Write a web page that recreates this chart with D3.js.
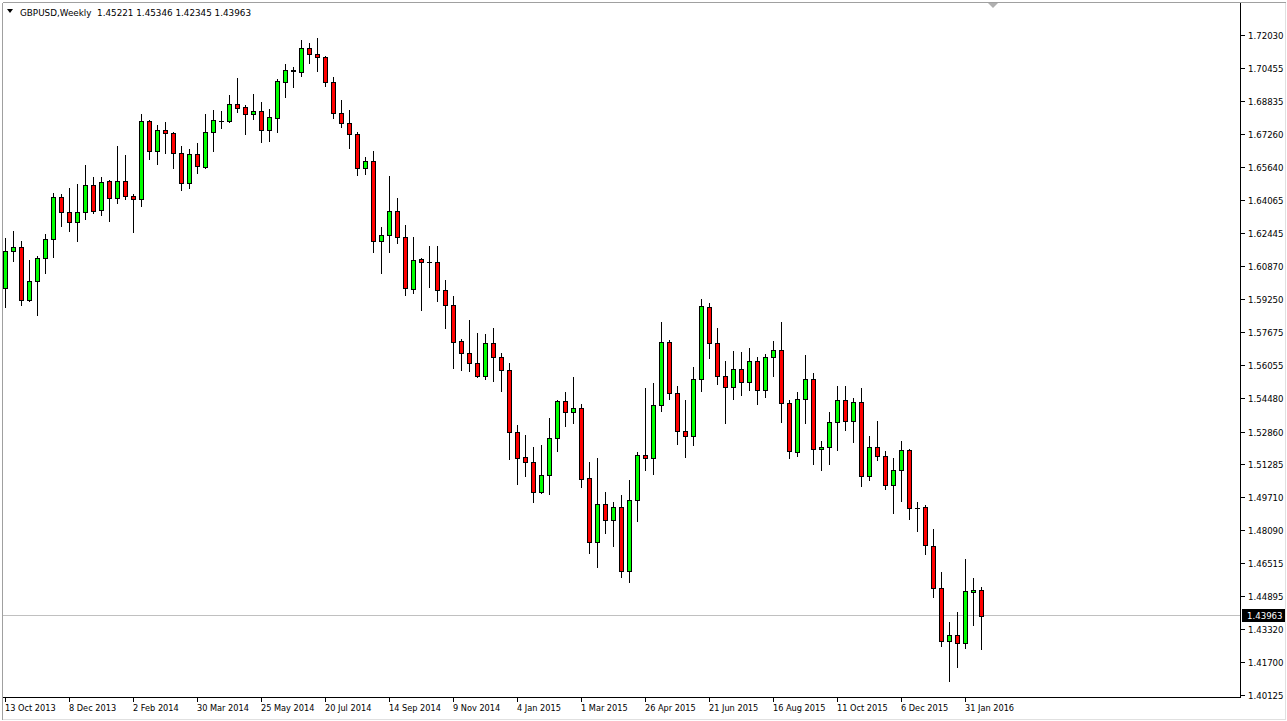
<!DOCTYPE html>
<html><head><meta charset="utf-8">
<script src="https://cdn.jsdelivr.net/npm/d3@7"></script>
<style>
html,body{margin:0;padding:0;background:#fff;}
svg{display:block;}
text{font-family:"DejaVu Sans",Tahoma,sans-serif;white-space:pre;}
</style></head>
<body>
<svg id="c" width="1287" height="721"></svg>
<script>
const symbol = "GBPUSD,Weekly";
const open = [1.5980,1.6159,1.6178,1.5922,1.6014,1.6125,1.6217,1.6420,1.6347,1.6299,
1.6347,1.6478,1.6357,1.6497,1.6415,1.6497,1.6425,1.6410,1.6787,1.6642,
1.6744,1.6729,1.6633,1.6488,1.6628,1.6565,1.6734,1.6787,1.6787,1.6869,
1.6855,1.6821,1.6836,1.6744,1.6802,1.6976,1.7029,1.7024,1.7140,1.7111,
1.7097,1.6976,1.6826,1.6778,1.6724,1.6560,1.6594,1.6207,1.6236,1.6352,
1.6227,1.5975,1.6120,1.6106,1.6106,1.5970,1.5898,1.5724,1.5666,1.5617,
1.5555,1.5714,1.5646,1.5584,1.5284,1.5163,1.5139,1.4994,1.5076,1.5255,
1.5434,1.5381,1.5400,1.5061,1.4752,1.4936,1.4858,1.4921,1.4612,1.4955,
1.5173,1.5158,1.5414,1.5719,1.5472,1.5289,1.5265,1.5540,1.5888,1.5714,
1.5555,1.5501,1.5588,1.5526,1.5627,1.5487,1.5646,1.5680,1.5424,1.5187,
1.5443,1.5540,1.5202,1.5211,1.5332,1.5439,1.5337,1.5429,1.5071,1.5211,
1.5168,1.5028,1.5100,1.5197,1.4916,1.4921,1.4733,1.4530,1.4274,1.4303,
1.4264,1.4512,1.45221];
const high = [1.6222,1.6256,1.6207,1.6115,1.6135,1.6241,1.6439,1.6434,1.6463,1.6483,
1.6575,1.6517,1.6517,1.6502,1.6666,1.6623,1.6434,1.6821,1.6792,1.6768,
1.6782,1.6734,1.6666,1.6652,1.6681,1.6821,1.6840,1.6836,1.6913,1.6995,
1.6865,1.6918,1.6879,1.6845,1.6990,1.7063,1.7048,1.7179,1.7164,1.7189,
1.7102,1.7000,1.6889,1.6840,1.6734,1.6613,1.6642,1.6275,1.6521,1.6415,
1.6285,1.6227,1.6125,1.6183,1.6183,1.6019,1.5941,1.5733,1.5825,1.5762,
1.5758,1.5787,1.5666,1.5617,1.5318,1.5269,1.5211,1.5221,1.5352,1.5439,
1.5477,1.5550,1.5419,1.5139,1.5158,1.4994,1.4946,1.4979,1.5052,1.5187,
1.5497,1.5521,1.5816,1.5729,1.5506,1.5439,1.5598,1.5927,1.5908,1.5787,
1.5627,1.5675,1.5671,1.5690,1.5646,1.5661,1.5724,1.5816,1.5439,1.5477,
1.5656,1.5569,1.5240,1.5381,1.5506,1.5506,1.5448,1.5497,1.5265,1.5337,
1.5192,1.5158,1.5240,1.5200,1.4946,1.4931,1.4815,1.4607,1.4365,1.4414,
1.4670,1.4578,1.45346];
const low = [1.5888,1.6110,1.5898,1.5917,1.5849,1.6053,1.6130,1.6280,1.6256,1.6207,
1.6314,1.6343,1.6333,1.6304,1.6391,1.6410,1.6251,1.6376,1.6604,1.6579,
1.6633,1.6560,1.6454,1.6463,1.6536,1.6560,1.6642,1.6753,1.6782,1.6831,
1.6724,1.6797,1.6686,1.6691,1.6734,1.6903,1.6952,1.7005,1.7068,1.7029,
1.6957,1.6802,1.6758,1.6657,1.6526,1.6531,1.6154,1.6053,1.6154,1.6198,
1.5946,1.5956,1.5874,1.5985,1.5917,1.5787,1.5593,1.5584,1.5579,1.5550,
1.5540,1.5530,1.5482,1.5153,1.5033,1.5071,1.4946,1.4989,1.4984,1.5192,
1.5313,1.5327,1.5018,1.4699,1.4631,1.4796,1.4733,1.4583,1.4559,1.4854,
1.5100,1.5081,1.5385,1.5443,1.5226,1.5163,1.5221,1.5482,1.5642,1.5516,
1.5327,1.5443,1.5463,1.5487,1.5419,1.5453,1.5555,1.5332,1.5158,1.5168,
1.5327,1.5129,1.5100,1.5129,1.5197,1.5294,1.5236,1.5023,1.5052,1.5149,
1.5008,1.4892,1.4950,1.4863,1.4805,1.4694,1.4486,1.4249,1.4080,1.4148,
1.4240,1.4351,1.42345];
const close = [1.6159,1.6178,1.5922,1.6014,1.6125,1.6217,1.6420,1.6347,1.6299,1.6347,
1.6478,1.6352,1.6492,1.6415,1.6497,1.6425,1.6410,1.6787,1.6642,1.6744,
1.6729,1.6633,1.6488,1.6628,1.6570,1.6734,1.6792,1.6787,1.6869,1.6850,
1.6821,1.6836,1.6744,1.6807,1.6981,1.7034,1.7034,1.7140,1.7111,1.7097,
1.6976,1.6826,1.6778,1.6724,1.6560,1.6594,1.6207,1.6236,1.6352,1.6227,
1.5980,1.6115,1.6106,1.6106,1.5970,1.5898,1.5719,1.5666,1.5617,1.5555,
1.5714,1.5646,1.5584,1.5284,1.5158,1.5139,1.4994,1.5076,1.5255,1.5434,
1.5381,1.5400,1.5057,1.4752,1.4936,1.4858,1.4921,1.4612,1.4955,1.5173,
1.5158,1.5414,1.5719,1.5472,1.5289,1.5265,1.5540,1.5893,1.5714,1.5555,
1.5501,1.5588,1.5526,1.5627,1.5487,1.5646,1.5680,1.5424,1.5192,1.5443,
1.5540,1.5202,1.5211,1.5332,1.5439,1.5337,1.5429,1.5071,1.5211,1.5168,
1.5028,1.5100,1.5197,1.4916,1.4916,1.4738,1.4530,1.4274,1.4303,1.4264,
1.4515,1.4522,1.43963];
const priceTicks = ["1.72030","1.70455","1.68835","1.67260","1.65640","1.64065","1.62445","1.60870","1.59250","1.57675",
"1.56055","1.54480","1.52860","1.51285","1.49710","1.48090","1.46515","1.44895","1.43320","1.41700","1.40125"];
const timeTickIndex = [0,8,16,24,32,40,48,56,64,72,80,88,96,104,112,120];
const timeTickLabels = ["13 Oct 2013","8 Dec 2013","2 Feb 2014","30 Mar 2014","25 May 2014","20 Jul 2014","14 Sep 2014","9 Nov 2014",
"4 Jan 2015","1 Mar 2015","26 Apr 2015","21 Jun 2015","16 Aug 2015","11 Oct 2015","6 Dec 2015","31 Jan 2016"];
const lastPrice = "1.43963";

const svg = d3.select("#c");
const plotRight = 1240, plotBottom = 697;
const y = d3.scaleLinear().domain([1.40125, 1.72030]).range([695, 35]);
const x = d3.scaleLinear().domain([0, 122]).range([5, 981]);

// window frame
svg.append("line").attr("x1",3).attr("x2",1286).attr("y1",2.5).attr("y2",2.5).attr("stroke","#a0a0a0");
svg.append("line").attr("x1",2.5).attr("x2",2.5).attr("y1",3).attr("y2",720).attr("stroke","#a0a0a0");
svg.append("line").attr("x1",1285.5).attr("x2",1285.5).attr("y1",3).attr("y2",720).attr("stroke","#e0e0e0");
svg.append("line").attr("x1",3).attr("x2",1286).attr("y1",719.5).attr("y2",719.5).attr("stroke","#e0e0e0");

// current price line
svg.append("line").attr("x1",3).attr("x2",plotRight).attr("y1",Math.round(y(+lastPrice))-0.5).attr("y2",Math.round(y(+lastPrice))-0.5)
  .attr("stroke","#c0c0c0");

// candles
const data = open.map((o,i)=>({i,o,h:high[i],l:low[i],c:close[i]}));
const g = svg.append("g");
data.forEach(d=>{
  const cx = Math.round(x(d.i));
  const yh = Math.round(y(d.h)), yl = Math.round(y(d.l));
  g.append("line").attr("x1",cx+0.5).attr("x2",cx+0.5).attr("y1",yh).attr("y2",yl+1).attr("stroke","#000").attr("stroke-width",1);
  const yo = Math.round(y(d.o)), yc = Math.round(y(d.c));
  const top = Math.min(yo,yc), bot = Math.max(yo,yc);
  if (bot - top < 1) {
    g.append("line").attr("x1",cx-2).attr("x2",cx+3).attr("y1",top+0.5).attr("y2",top+0.5).attr("stroke","#000");
  } else {
    g.append("rect").attr("x",cx-2+0.5).attr("y",top+0.5).attr("width",4).attr("height",bot-top)
      .attr("fill", d.c > d.o ? "#00ff00" : "#ff0000").attr("stroke","#000").attr("stroke-width",1);
  }
});

// axes lines
svg.append("line").attr("x1",plotRight+0.5).attr("x2",plotRight+0.5).attr("y1",3).attr("y2",plotBottom+1).attr("stroke","#000");
svg.append("line").attr("x1",3).attr("x2",plotRight+1).attr("y1",plotBottom+0.5).attr("y2",plotBottom+0.5).attr("stroke","#000");

// price axis
priceTicks.forEach(t=>{
  const yy = Math.round(y(+t));
  svg.append("line").attr("x1",plotRight+1).attr("x2",plotRight+5).attr("y1",yy+0.5).attr("y2",yy+0.5).attr("stroke","#000");
  svg.append("text").attr("x",1248).attr("y",yy+3.5).attr("font-size","8.6px").attr("fill","#000").text(t);
});
// current price label
const ylp = Math.round(y(+lastPrice));
svg.append("rect").attr("x",1242).attr("y",ylp-7).attr("width",43).attr("height",13).attr("fill","#000");
svg.append("text").attr("x",1247).attr("y",ylp+2.5).attr("font-size","8.6px").attr("fill","#fff").text(lastPrice);

// time axis
timeTickIndex.forEach((idx,k)=>{
  const cx = Math.round(x(idx));
  svg.append("line").attr("x1",cx+0.5).attr("x2",cx+0.5).attr("y1",plotBottom+1).attr("y2",plotBottom+5).attr("stroke","#000");
  svg.append("text").attr("x",cx).attr("y",711).attr("font-size","8.2px").attr("fill","#000").text(timeTickLabels[k]);
});

// header
svg.append("path").attr("d","M7,9 L13,9 L10,13 Z").attr("fill","#000");
svg.append("text").attr("x",20).attr("y",15.5).attr("font-size","8.8px").attr("fill","#000")
  .text(symbol + "  " + open[122].toFixed(5) + " " + high[122].toFixed(5) + " " + low[122].toFixed(5) + " " + close[122].toFixed(5));
// chart shift marker
svg.append("path").attr("d","M988,3 L998,3 L993,8 Z").attr("fill","#b0b0b0");
</script>
</body></html>
